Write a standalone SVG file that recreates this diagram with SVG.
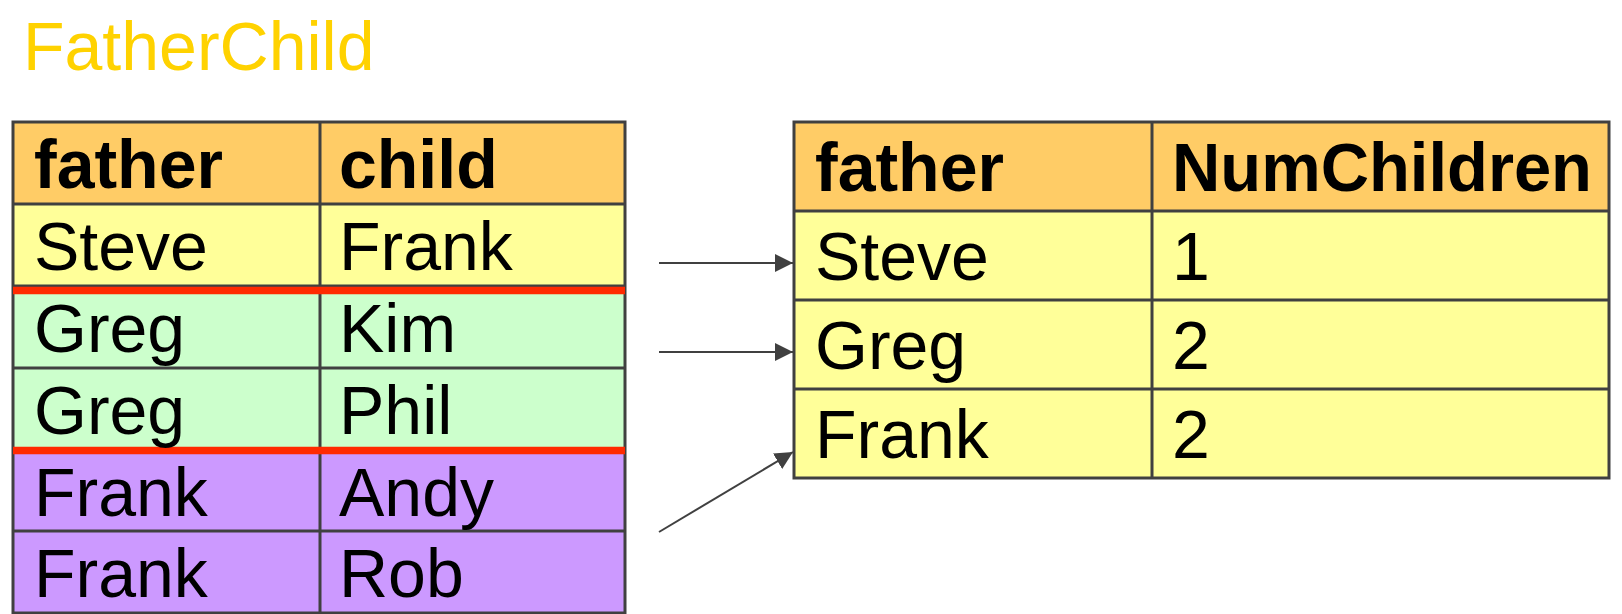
<svg xmlns="http://www.w3.org/2000/svg" width="1622" height="614" viewBox="0 0 1622 614">
<style>
  text { font-family: "Liberation Sans", Arial, sans-serif; font-size: 68px; fill: #000; }
  .b { font-weight: bold; }
  .title { font-size: 68px; fill: #FFD200; }
  .grid { stroke: #404040; stroke-width: 3; fill: none; }
  .red { stroke: #FF2A00; stroke-width: 7.5; }
  .conn { stroke: #404040; stroke-width: 2; fill: none; marker-end: url(#arr); }
</style>
<defs>
  <marker id="arr" markerUnits="userSpaceOnUse" markerWidth="18" markerHeight="18" viewBox="0 0 16 16" refX="16" refY="8" orient="auto">
    <path d="M0,0 L16,8 L0,16 Z" fill="#404040"/>
  </marker>
</defs>
<rect width="1622" height="614" fill="#fff"/>
<text class="title" x="23" y="70">FatherChild</text>

<g id="fatherchild-table">
  <rect x="13" y="122" width="612" height="82" fill="#FFCC66"/>
  <rect x="13" y="204" width="612" height="82" fill="#FFFF99"/>
  <rect x="13" y="286" width="612" height="164" fill="#CCFFCC"/>
  <rect x="13" y="450" width="612" height="163" fill="#CC99FF"/>
  <rect class="grid" x="13" y="122" width="612" height="491"/>
  <path class="grid" d="M320,122V613 M13,204H625 M13,286H625 M13,368H625 M13,450H625 M13,531H625"/>
  <line class="red" x1="13" y1="290.5" x2="625" y2="290.5"/>
  <line class="red" x1="13" y1="450.5" x2="625" y2="450.5"/>
  <text class="b" x="34" y="188">father</text>
  <text class="b" x="339" y="188">child</text>
  <text x="34" y="270">Steve</text><text x="339" y="270">Frank</text>
  <text x="34" y="352">Greg</text><text x="339" y="352">Kim</text>
  <text x="34" y="434">Greg</text><text x="339" y="434">Phil</text>
  <text x="34" y="516">Frank</text><text x="339" y="516">Andy</text>
  <text x="34" y="597">Frank</text><text x="339" y="597">Rob</text>
</g>

<g id="result-table">
  <rect x="794" y="122" width="815" height="89" fill="#FFCC66"/>
  <rect x="794" y="211" width="815" height="267" fill="#FFFF99"/>
  <rect class="grid" x="794" y="122" width="815" height="356"/>
  <path class="grid" d="M1152,122V478 M794,211H1609 M794,300H1609 M794,389H1609"/>
  <text class="b" x="815" y="191">father</text>
  <text class="b" x="1172" y="191" textLength="420" lengthAdjust="spacingAndGlyphs">NumChildren</text>
  <text x="815" y="280">Steve</text><text x="1172" y="280">1</text>
  <text x="815" y="369">Greg</text><text x="1172" y="369">2</text>
  <text x="815" y="458">Frank</text><text x="1172" y="458">2</text>
</g>

<g id="connectors">
  <line class="conn" x1="659" y1="263" x2="793" y2="263"/>
  <line class="conn" x1="659" y1="352" x2="793" y2="352"/>
  <line class="conn" x1="659" y1="532" x2="793" y2="452"/>
</g>
</svg>
